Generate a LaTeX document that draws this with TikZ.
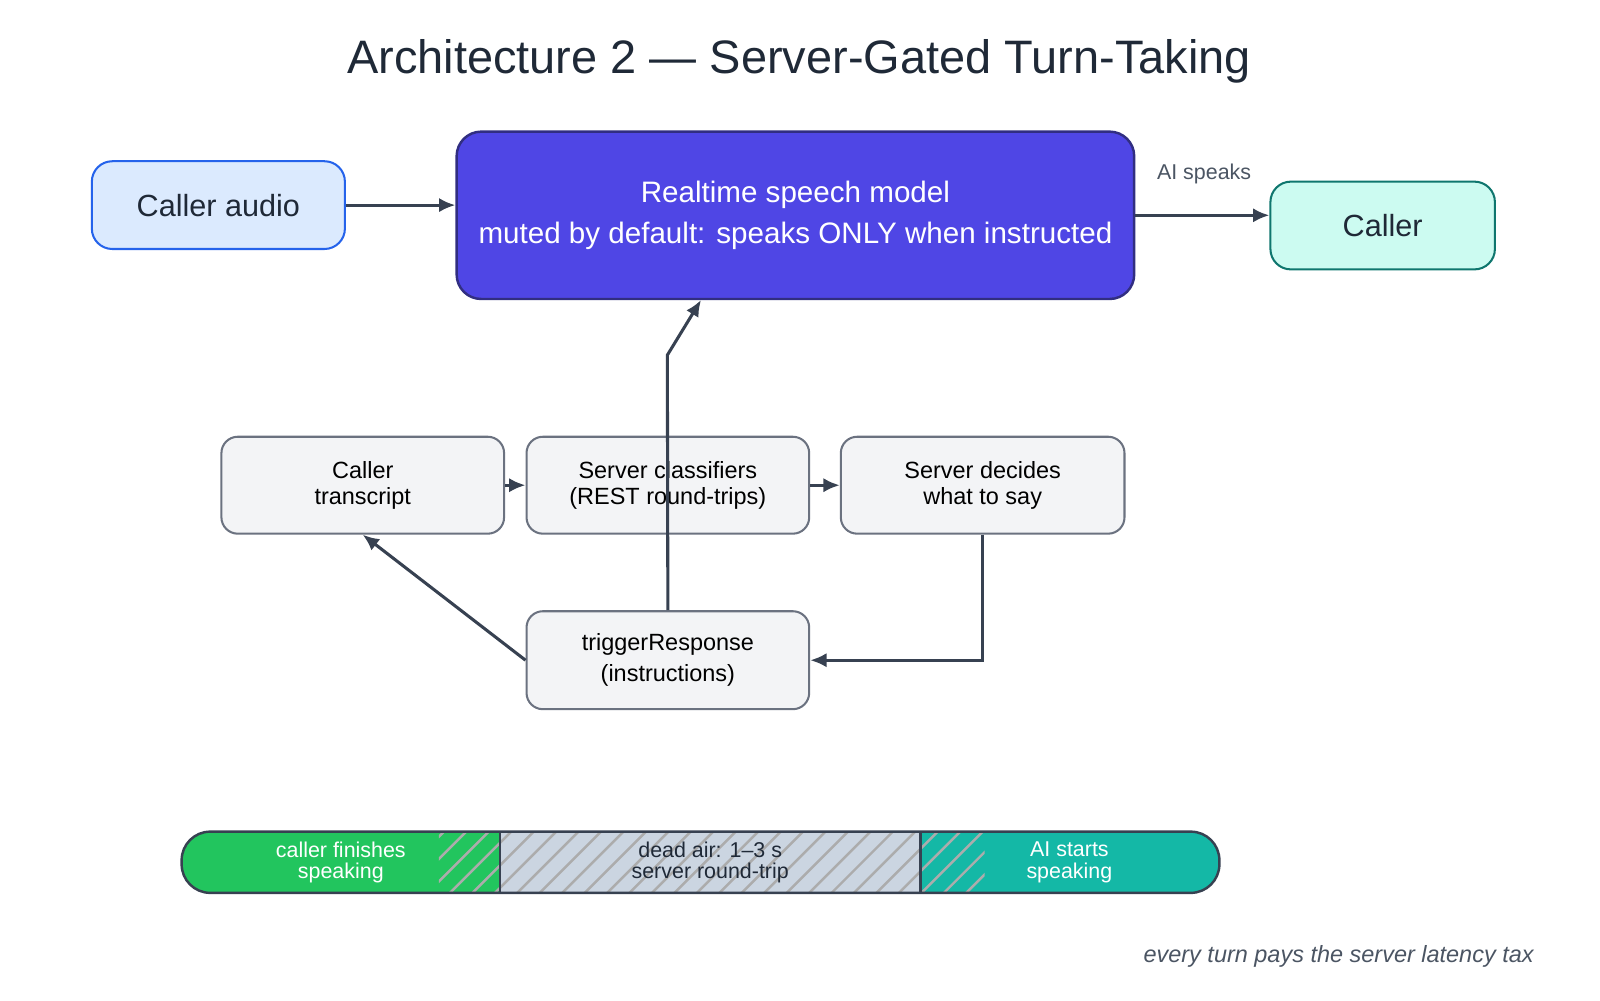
\documentclass[tikz,border=0pt]{standalone}
\usepackage{fontspec}
\setmainfont{Liberation Sans}
\usetikzlibrary{arrows.meta}
\definecolor{ln}{HTML}{374151}
\definecolor{bx}{HTML}{F3F4F6}
\definecolor{bxd}{HTML}{6B7280}
\definecolor{ablue}{HTML}{DBEAFE}
\definecolor{ablued}{HTML}{2563EB}
\definecolor{indf}{HTML}{4F46E5}
\definecolor{indd}{HTML}{312E81}
\definecolor{tealf}{HTML}{CCFBF1}
\definecolor{teald}{HTML}{0F766E}
\definecolor{gtxt}{HTML}{4B5563}
\definecolor{grn}{HTML}{22C55E}
\definecolor{slt}{HTML}{CBD5E1}
\definecolor{tl}{HTML}{14B8A6}
\definecolor{dtxt}{HTML}{1F2937}
\tikzset{
 gbox/.style={draw=bxd,fill=bx,line width=1pt,rounded corners=8pt,align=center,font=\fontsize{11.5}{13}\selectfont,inner sep=0pt},
 conn/.style={draw=ln,line width=1.5pt,-{Latex[length=8pt,width=7pt]}},
 barseg/.style={font=\fontsize{10.5}{10.5}\selectfont,align=center,inner sep=0pt}
}
\begin{document}
\begin{tikzpicture}[x=0.5pt,y=-0.5pt]
\useasboundingbox (0,0) rectangle (1568,980);
\node[text=dtxt] (title) at (783,60) {\fontsize{23}{26}\selectfont Architecture 2 — Server-Gated Turn-Taking};
\node[draw=ablued,fill=ablue,line width=1pt,rounded corners=10pt,minimum width=124pt,minimum height=43pt,font=\fontsize{15}{17}\selectfont,text=dtxt] (audio) at (214,201) {Caller audio};
\node[draw=indd,fill=indf,line width=1.2pt,rounded corners=12pt,minimum width=332pt,minimum height=82pt,text=white,align=center,font=\fontsize{14.5}{20}\selectfont] (model) at (779.5,211) {Realtime speech model\\muted by default: speaks ONLY when instructed};
\node[draw=teald,fill=tealf,line width=1pt,rounded corners=10pt,minimum width=110pt,minimum height=43pt,font=\fontsize{15}{17}\selectfont,text=dtxt] (caller) at (1355,221) {Caller};
\node[text=gtxt,font=\fontsize{10.5}{12}\selectfont] (aisp) at (1180,170) {AI speaks};
\node[gbox,minimum width=138.5pt,minimum height=47.5pt] (tr) at (355.5,475.5) {Caller\\transcript};
\node[gbox,minimum width=138.5pt,minimum height=47.5pt] (cl) at (654.5,475.5) {Server classifiers\\(REST round-trips)};
\node[gbox,minimum width=139pt,minimum height=47.5pt] (sd) at (963,475.5) {Server decides\\what to say};
\node[gbox,minimum width=138.5pt,minimum height=48pt,font=\fontsize{11.5}{15}\selectfont] (tg) at (654.5,647) {triggerResponse\\(instructions)};
\draw[conn] (audio.east |- 0,201) -- (model.west |- 0,201);
\draw[conn] (model.east |- 0,211) -- (caller.west |- 0,211);
\draw[conn] (tr) -- (cl);
\draw[conn] (cl) -- (sd);
\draw[conn] (sd.south) -- (963,647) -- (tg.east);
\draw[conn] (tg.west) -- (tr.south);
\draw[conn] (tg.north) -- (654,348) -- (687,294);
% bar
\begin{scope}
\clip[rounded corners=14pt] (178,815) rectangle (1195,875);
\fill[grn] (178,815) rectangle (490,875);
\fill[slt] (490,815) rectangle (902,875);
\fill[tl] (902,815) rectangle (1195,875);
\clip (430,815) rectangle (965,875);
\foreach \i in {0,...,28} {\draw[gray!65,line width=1.2pt] ({370+22*\i},880) -- ({370+22*\i+70},810);}
\end{scope}
\draw[ln,line width=1.2pt,rounded corners=14pt] (178,815) rectangle (1195,875);
\draw[ln,line width=1.2pt] (490,815) -- (490,875) (902,815) -- (902,875);
\node[barseg,text=white] (s1) at (334,845) {caller finishes\\speaking};
\node[barseg,text=dtxt] (s2) at (696,845) {dead air: 1–3 s\\server round-trip};
\node[barseg,text=white] (s3) at (1048,845) {AI starts\\speaking};
\node[anchor=east,text=gtxt,font=\fontsize{11.5}{13}\itshape] (foot) at (1510,937) {every turn pays the server latency tax};
\end{tikzpicture}
\end{document}
